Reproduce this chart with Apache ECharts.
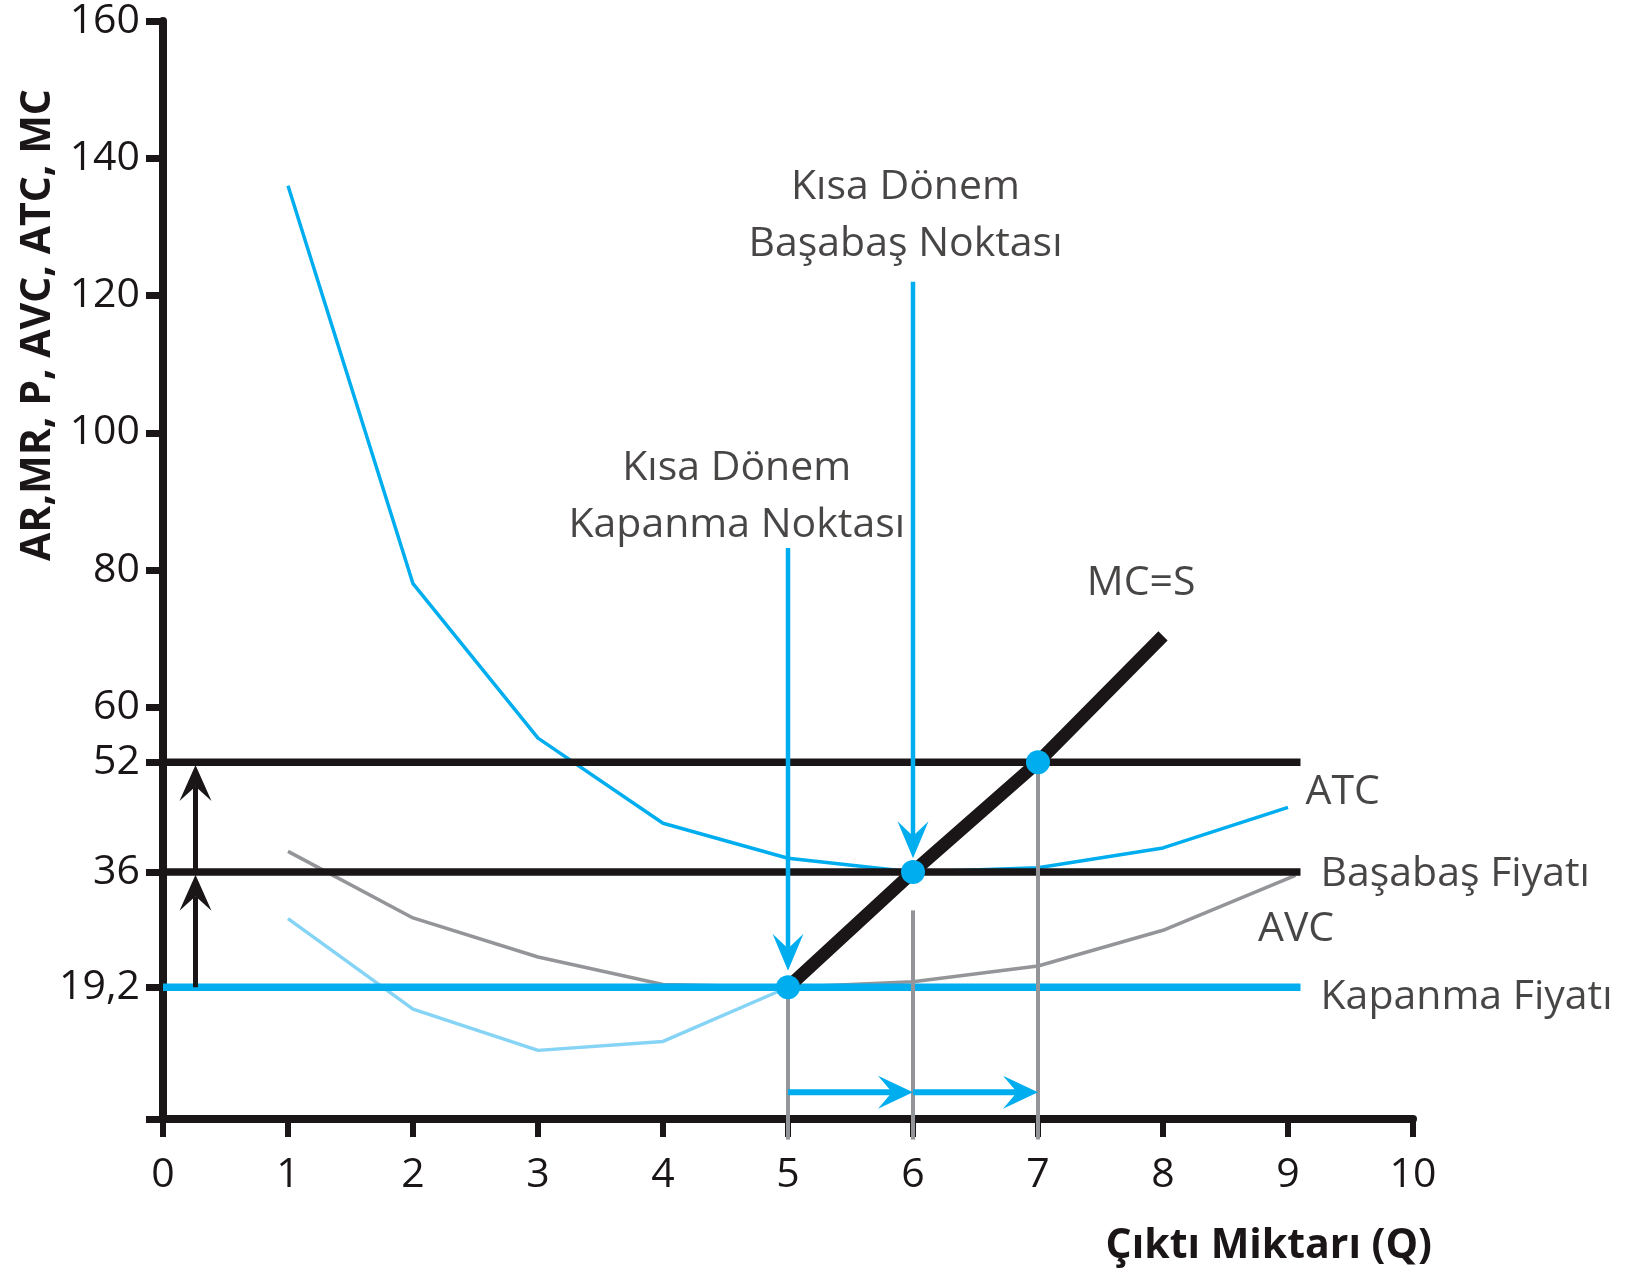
<!DOCTYPE html>
<html><head><meta charset="utf-8">
<script src="https://cdn.jsdelivr.net/npm/echarts@6/dist/echarts.min.js"></script>
<style>html,body{margin:0;padding:0;background:#fff}#c{width:1627px;height:1273px}</style>
</head><body><div id="c"></div>
<script>
// ---- data ----
const qValues = [1, 2, 3, 4, 5, 6, 7, 8, 9];
const atcValues = [136, 78, 55.5, 43.1, 38, 36, 36.6, 39.5, 45.4];
const avcQ = [1, 2, 3, 4, 5, 6, 7, 8, 9.06];
const avcValues = [39, 29.3, 23.6, 19.6, 19.2, 20, 22.3, 27.5, 35.5];
const mcLowQ = [1, 2, 3, 4, 5];
const mcLowValues = [29.2, 16, 10, 11.3, 19.2];
const mcQ = [5, 6, 7, 8];
const mcValues = [19.2, 36, 52, 70.4];
const priceLevels = [52, 36, 19.2];
const priceLineEnd = 9.1;
const keyPoints = [[5, 19.2], [6, 36], [7, 52]];
const guideLines = [[5, 19.2, -3], [6, 30.4, -3], [7, 52, -3]];
const blueDownArrows = [[5, 83.2, 5, 21.6], [6, 122, 6, 38]];
const blueRightArrows = [[5, 3.9, 6, 3.9], [6, 3.9, 7, 3.9]];
const blackUpArrows = [[0.26, 19.2, 0.26, 35.6], [0.26, 35.6, 0.26, 51.6]];
const yTickValues = [0, 19.2, 36, 52, 60, 80, 100, 120, 140, 160];
const yLabelValues = [19.2, 36, 52, 60, 80, 100, 120, 140, 160];
const xAxisName = 'Çıktı Miktarı (Q)';
const yAxisName = 'AR,MR, P, AVC, ATC, MC';
const annoTexts = ['Kısa Dönem\nBaşabaş Noktası', 'Kısa Dönem\nKapanma Noktası', 'MC=S', 'ATC', 'Başabaş Fiyatı', 'AVC', 'Kapanma Fiyatı'];
const annoQ = [5.94, 4.59, 7.39, 9.14, 9.26, 8.76, 9.26];
const annoV = [131.6, 90.7, 78.1, 47.6, 35.7, 27.6, 17.8];
const annoAlign = ['center', 'center', 'left', 'left', 'left', 'left', 'left'];

// ---- styles ----
const BLUE = '#00AEEF', LIGHTBLUE = '#86D4F5', GRAY = '#939598', INK = '#1a1617';
const FONT = '"Open Sans", "Noto Sans", sans-serif';

const zip = (xs, ys) => xs.map((x, i) => [x, ys[i]]);

function arrowSeries(data, color, width, headL, headW, z) {
  return {
    type: 'custom', z: z, silent: true, clip: false, data: data,
    encode: { x: [0, 2], y: [1, 3] },
    renderItem: function (params, api) {
      const a = api.coord([api.value(0), api.value(1)]);
      const b = api.coord([api.value(2), api.value(3)]);
      const dx = b[0] - a[0], dy = b[1] - a[1], len = Math.hypot(dx, dy);
      const ux = dx / len, uy = dy / len, px = -uy, py = ux;
      const notch = [b[0] - ux * headL * 0.6, b[1] - uy * headL * 0.6];
      const back1 = [b[0] - ux * headL + px * headW / 2, b[1] - uy * headL + py * headW / 2];
      const back2 = [b[0] - ux * headL - px * headW / 2, b[1] - uy * headL - py * headW / 2];
      return {
        type: 'group', children: [
          { type: 'line', shape: { x1: a[0], y1: a[1], x2: notch[0], y2: notch[1] }, style: { stroke: color, lineWidth: width } },
          { type: 'polygon', shape: { points: [b, back1, notch, back2] }, style: { fill: color } }
        ]
      };
    }
  };
}

const series = [];
series.push({ type: 'line', name: 'ATC', data: zip(qValues, atcValues), symbol: 'none', z: 2,
  lineStyle: { color: BLUE, width: 3.5 } });
series.push({ type: 'line', name: 'AVC', data: zip(avcQ, avcValues), symbol: 'none', z: 2,
  lineStyle: { color: GRAY, width: 3.5 } });
series.push({ type: 'line', name: 'MC low', data: zip(mcLowQ, mcLowValues), symbol: 'none', z: 2,
  lineStyle: { color: LIGHTBLUE, width: 3.5 } });
priceLevels.forEach(function (lvl, i) {
  series.push({ type: 'line', data: [[0, lvl], [priceLineEnd, lvl]], symbol: 'none', z: 3,
    lineStyle: { color: i === 2 ? BLUE : INK, width: 7.5 } });
});
series.push({
  type: 'custom', z: 4, silent: true, clip: false, data: guideLines, encode: { x: 0, y: [1, 2] },
  renderItem: function (params, api) {
    const a = api.coord([api.value(0), api.value(1)]);
    const b = api.coord([api.value(0), api.value(2)]);
    return { type: 'line', shape: { x1: a[0], y1: a[1], x2: b[0], y2: b[1] }, style: { stroke: GRAY, lineWidth: 4 } };
  }
});
series.push({ type: 'line', name: 'MC=S', data: zip(mcQ, mcValues), symbol: 'none', z: 5,
  lineStyle: { color: INK, width: 13, cap: 'butt' } });
series.push(arrowSeries(blueDownArrows, BLUE, 4.5, 37, 31, 6));
series.push(arrowSeries(blueRightArrows, BLUE, 6, 35, 33, 6));
series.push(arrowSeries(blackUpArrows, INK, 5, 36, 32, 6));
series.push({ type: 'scatter', data: keyPoints, symbolSize: 24, z: 7,
  itemStyle: { color: BLUE, opacity: 1, borderWidth: 0 } });
series.push({
  type: 'scatter', z: 8, symbolSize: 1, silent: true,
  itemStyle: { color: 'transparent' },
  data: annoTexts.map(function (t, i) {
    return { value: [annoQ[i], annoV[i]], name: t,
      label: { show: true, position: 'inside', formatter: t, align: annoAlign[i], verticalAlign: 'middle',
        fontSize: 41, lineHeight: 57, color: INK, fontFamily: FONT } };
  })
});

const chart = echarts.init(document.getElementById('c'));
chart.setOption({
  animation: false,
  backgroundColor: '#fff',
  grid: { left: 163, right: 214, top: 21, bottom: 154, containLabel: false },
  xAxis: {
    type: 'value', min: 0, max: 10, interval: 1,
    name: xAxisName, nameLocation: 'end', nameGap: 19,
    nameTextStyle: { fontFamily: FONT, fontWeight: 'bold', fontSize: 41, color: INK, align: 'right', verticalAlign: 'top', padding: [107, 0, 0, 0] },
    axisLine: { lineStyle: { color: INK, width: 8 } },
    axisTick: { length: 18, lineStyle: { color: INK, width: 6 } },
    axisLabel: { fontSize: 41, margin: 36, color: INK, fontFamily: FONT },
    splitLine: { show: false }
  },
  yAxis: {
    type: 'value', min: 0, max: 160,
    name: yAxisName, nameLocation: 'middle', nameRotate: 90, nameGap: 104, nameMoveOverlap: false,
    nameTextStyle: { fontFamily: FONT, fontWeight: 'bold', fontSize: 41, color: INK, padding: [0, 0, 0, 490] },
    axisLine: { lineStyle: { color: INK, width: 8 } },
    axisTick: { customValues: yTickValues, length: 17, lineStyle: { color: INK, width: 7 } },
    axisLabel: { customValues: yLabelValues, fontSize: 41, margin: 23, color: INK, fontFamily: FONT,
      formatter: function (v) { return String(v).replace('.', ','); } },
    splitLine: { show: false }
  },
  series: series
});
</script>
</body></html>
